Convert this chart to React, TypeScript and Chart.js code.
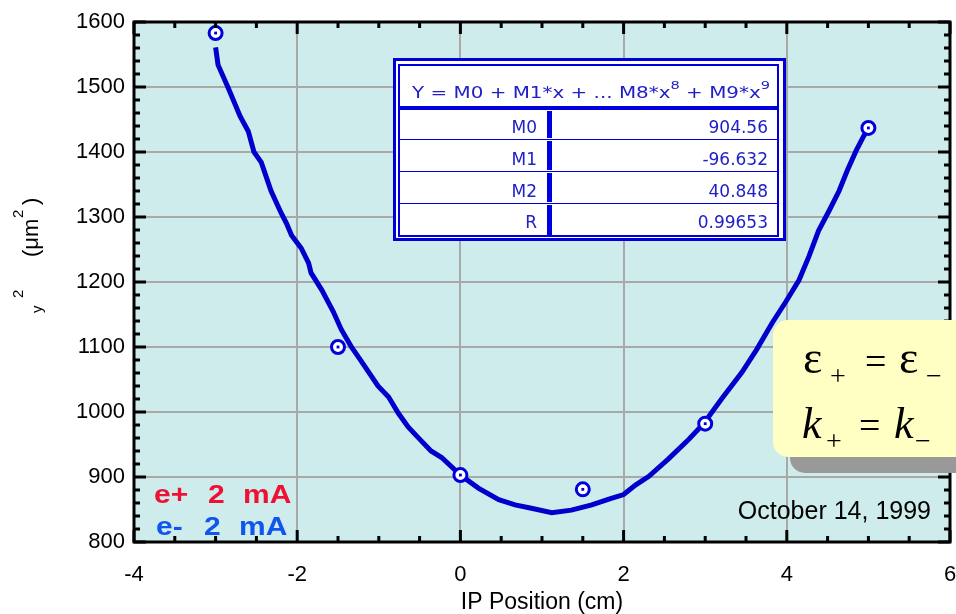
import React, { useEffect, useRef } from "react";
import { Chart, registerables } from "chart.js";
Chart.register(...registerables);

// Fitted curve
const fitX = [-3.0, -2.97, -2.85, -2.7, -2.6, -2.53, -2.44, -2.32, -2.2, -2.13, -2.07, -1.95, -1.86, -1.83, -1.7, -1.56, -1.46, -1.34, -1.23, -1.01, -0.88, -0.76, -0.64, -0.52, -0.36, -0.23, 0.0, 0.22, 0.47, 0.67, 0.87, 1.12, 1.36, 1.61, 1.82, 2.0, 2.15, 2.31, 2.55, 2.8, 2.98, 3.2, 3.45, 3.63, 3.82, 3.99, 4.15, 4.27, 4.39, 4.52, 4.64, 4.74, 4.85, 4.94, 5.0];
const fitY = [1561, 1534, 1500, 1455, 1432, 1400, 1384, 1340, 1307, 1290, 1272, 1252, 1229, 1214, 1188, 1155, 1127, 1101, 1081, 1040, 1023, 998, 977, 961, 940, 930, 903, 883, 865, 857, 852, 845, 849, 857, 866, 873, 888, 901, 928, 958, 982, 1020, 1061, 1096, 1137, 1170, 1203, 1239, 1279, 1310, 1340, 1371, 1402, 1424, 1437];

// Measured points
const measX = [-3, -1.5, 0, 1.5, 3, 5];
const measY = [1583, 1100, 903, 881, 982, 1437];

// Axes
const xMin = -4, xMax = 6, xStep = 2, xMinor = 0.5;
const yMin = 800, yMax = 1600, yStep = 100, yMinor = 20;
const xTitle = "IP Position (cm)";

// Fit table
const tableHeader = ["Y = M0 + M1*x + ... M8*x", "8", " + M9*x", "9"];
const tableLabels = ["M0", "M1", "M2", "R"];
const tableValues = ["904.56", "-96.632", "40.848", "0.99653"];

// Annotations
const legendPos = ["e+", "2", "mA"];
const legendNeg = ["e-", "2", "mA"];
const dateLabel = "October 14, 1999";

const SANS = '"Liberation Sans", Arial, sans-serif';
const SERIF = '"Liberation Serif", "Times New Roman", serif';
const DEJ = '"DejaVu Sans", sans-serif';

const overlay = {
  id: "overlay",
  beforeDraw(chart: any) {
    const { ctx, chartArea: a } = chart;
    ctx.save();
    ctx.fillStyle = "#ceecec";
    ctx.fillRect(a.left, a.top, a.right - a.left, a.bottom - a.top);
    ctx.restore();
  },
  afterDatasetsDraw(chart: any) {
    const { ctx, chartArea: a } = chart;
    const xs = chart.scales.x, ys = chart.scales.y;
    ctx.save();
    ctx.strokeStyle = "#000";
    ctx.lineWidth = 3;
    for (let v = xMin; v <= xMax + 1e-9; v += xMinor) {
      const p = xs.getPixelForValue(v);
      const major = Math.abs(v / xStep - Math.round(v / xStep)) < 1e-6;
      const len = major ? 12 : 6;
      ctx.beginPath();
      ctx.moveTo(p, a.bottom); ctx.lineTo(p, a.bottom - len);
      ctx.moveTo(p, a.top); ctx.lineTo(p, a.top + len);
      ctx.stroke();
    }
    for (let v = yMin; v <= yMax + 1e-9; v += yMinor) {
      const p = ys.getPixelForValue(v);
      const major = Math.abs(v / yStep - Math.round(v / yStep)) < 1e-6;
      const len = major ? 12 : 6;
      ctx.beginPath();
      ctx.moveTo(a.left, p); ctx.lineTo(a.left + len, p);
      ctx.moveTo(a.right, p); ctx.lineTo(a.right - len, p);
      ctx.stroke();
    }
    ctx.strokeRect(a.left, a.top, a.right - a.left, a.bottom - a.top);
    ctx.restore();
  },
  afterDraw(chart: any) {
    const { ctx } = chart;
    ctx.save();

    // ---- fit table ----
    const blue = "#0000dd";
    const txt = "#2020c8";
    ctx.fillStyle = "#fff";
    ctx.fillRect(393, 58, 393, 183);
    ctx.strokeStyle = blue;
    ctx.lineWidth = 3;
    ctx.strokeRect(394.5, 59.5, 390, 180);
    ctx.lineWidth = 2;
    ctx.strokeRect(399, 65, 379, 171);
    ctx.fillStyle = blue;
    ctx.fillRect(399, 106, 379, 4);
    ctx.lineWidth = 1;
    const rowLines = [139, 171, 203];
    rowLines.forEach((y) => {
      ctx.beginPath(); ctx.moveTo(399, y + 0.5); ctx.lineTo(778, y + 0.5); ctx.stroke();
    });
    const rowTops = [110, 140, 172, 204];
    const rowBots = [138, 170, 202, 235];
    for (let i = 0; i < 4; i++) {
      ctx.fillRect(547, rowTops[i] + 1, 5, rowBots[i] - rowTops[i] - 1);
    }
    ctx.fillStyle = txt;
    ctx.textBaseline = "alphabetic";
    ctx.textAlign = "left";
    const hf = 15, sf = 11;
    ctx.font = `${hf}px ${DEJ}`;
    const w0 = ctx.measureText(tableHeader[0]).width;
    const w2 = ctx.measureText(tableHeader[2]).width;
    ctx.font = `${sf}px ${DEJ}`;
    const w1 = ctx.measureText(tableHeader[1]).width;
    const w3 = ctx.measureText(tableHeader[3]).width;
    const total = w0 + w1 + w2 + w3;
    const sx = 358 / total;
    ctx.save();
    ctx.translate(412, 98);
    ctx.scale(sx, 1);
    let cx = 0;
    ctx.font = `${hf}px ${DEJ}`; ctx.fillText(tableHeader[0], cx, 0); cx += w0;
    ctx.font = `${sf}px ${DEJ}`; ctx.fillText(tableHeader[1], cx, -9); cx += w1;
    ctx.font = `${hf}px ${DEJ}`; ctx.fillText(tableHeader[2], cx, 0); cx += w2;
    ctx.font = `${sf}px ${DEJ}`; ctx.fillText(tableHeader[3], cx, -9);
    ctx.restore();
    ctx.font = `17px ${DEJ}`;
    ctx.textAlign = "right";
    const base = [133, 165, 197, 228];
    for (let i = 0; i < 4; i++) {
      ctx.fillText(tableLabels[i], 537, base[i]);
      ctx.fillText(tableValues[i], 768, base[i]);
    }

    // ---- yellow box ----
    const rr = (x: number, y: number, w: number, h: number, r: number) => {
      ctx.beginPath();
      ctx.moveTo(x + r, y);
      ctx.lineTo(x + w - r, y);
      ctx.arcTo(x + w, y, x + w, y + r, r);
      ctx.lineTo(x + w, y + h - r);
      ctx.arcTo(x + w, y + h, x + w - r, y + h, r);
      ctx.lineTo(x + r, y + h);
      ctx.arcTo(x, y + h, x, y + h - r, r);
      ctx.lineTo(x, y + r);
      ctx.arcTo(x, y, x + r, y, r);
      ctx.closePath();
    };
    ctx.fillStyle = "#999999";
    rr(790, 336, 220, 137, 15); ctx.fill();
    ctx.fillStyle = "#ffffc4";
    rr(773, 320, 220, 137, 15); ctx.fill();

    ctx.fillStyle = "#000";
    ctx.textAlign = "left";
    ctx.font = `46px ${SERIF}`;
    ctx.fillText("\u03b5", 803, 373);
    ctx.fillText("\u03b5", 899, 373);
    ctx.font = `38px ${SERIF}`;
    ctx.fillText("=", 865, 374);
    ctx.font = `28px ${SERIF}`;
    ctx.fillText("+", 830, 385);
    ctx.fillText("\u2212", 926, 385);
    ctx.font = `italic 44px ${SERIF}`;
    ctx.fillText("k", 802, 438);
    ctx.fillText("k", 894, 438);
    ctx.font = `38px ${SERIF}`;
    ctx.fillText("=", 859, 438);
    ctx.font = `28px ${SERIF}`;
    ctx.fillText("+", 826, 450);
    ctx.fillText("\u2212", 915, 450);

    // ---- legend text ----
    const drawStretched = (s: string, x: number, y: number, k: number) => {
      ctx.save(); ctx.translate(x, y); ctx.scale(k, 1); ctx.fillText(s, 0, 0); ctx.restore();
    };
    ctx.font = `bold 25px ${SANS}`;
    ctx.fillStyle = "#ee1133";
    drawStretched(legendPos[0], 154, 503, 1.2);
    drawStretched(legendPos[1], 208, 503, 1.2);
    drawStretched(legendPos[2], 243, 503, 1.2);
    ctx.fillStyle = "#1155ee";
    drawStretched(legendNeg[0], 156, 535, 1.2);
    drawStretched(legendNeg[1], 204, 535, 1.2);
    drawStretched(legendNeg[2], 239, 535, 1.2);

    // ---- date ----
    ctx.fillStyle = "#000";
    ctx.font = `25px ${SANS}`;
    ctx.textAlign = "right";
    ctx.fillText(dateLabel, 931, 519);

    // ---- y title (rotated) ----
    const rot = (s: string, x: number, y: number, f: string) => {
      ctx.save(); ctx.translate(x, y); ctx.rotate(-Math.PI / 2);
      ctx.font = f; ctx.textAlign = "left"; ctx.textBaseline = "alphabetic";
      ctx.fillText(s, 0, 0); ctx.restore();
    };
    rot("2", 23, 298, `15px ${SANS}`);
    rot("y", 42, 313, `15px ${SANS}`);
    rot("(\u03bcm", 38, 257, `22px ${SANS}`);
    rot("2", 23, 218, `15px ${SANS}`);
    rot(")", 38, 205, `22px ${SANS}`);

    ctx.restore();
  },
};

export default function App() {
  const ref = useRef<HTMLCanvasElement | null>(null);
  useEffect(() => {
    document.body.style.margin = "0";
    if (!ref.current) return;
    const gridColor = (c: any, lo: number, hi: number) =>
      c.tick && (c.tick.value <= lo || c.tick.value >= hi) ? "rgba(0,0,0,0)" : "#a9a9a9";
    const chart = new Chart(ref.current, {
      type: "scatter",
      data: {
        datasets: [
          {
            data: fitX.map((x, i) => ({ x, y: fitY[i] })),
            showLine: true,
            borderColor: "#0000cc",
            borderWidth: 5,
            pointRadius: 0,
            tension: 0,
            order: 3,
          },
          {
            data: measX.map((x, i) => ({ x, y: measY[i] })),
            pointRadius: 6.5,
            borderWidth: 3,
            borderColor: "#0000dd",
            backgroundColor: "#ffffff",
            order: 2,
          },
          {
            data: measX.map((x, i) => ({ x, y: measY[i] })),
            pointStyle: "rect",
            pointRadius: 2,
            borderWidth: 0,
            backgroundColor: "#0000dd",
            order: 1,
          },
        ],
      },
      options: {
        animation: false,
        responsive: false,
        devicePixelRatio: 1,
        layout: { autoPadding: false, padding: { left: 0, top: 22, right: 6, bottom: 0 } },
        plugins: { legend: { display: false }, tooltip: { enabled: false } },
        scales: {
          x: {
            type: "linear",
            min: xMin,
            max: xMax,
            afterFit: (s: any) => { s.height = 72; s.paddingLeft = 0; s.paddingRight = 0; },
            ticks: { stepSize: xStep, color: "#000", font: { family: SANS, size: 22 }, padding: 20, maxRotation: 0 },
            grid: { color: (c: any) => gridColor(c, xMin, xMax), lineWidth: 2, drawTicks: false },
            border: { display: false },
            title: { display: true, text: xTitle, color: "#000", font: { family: SANS, size: 23, lineHeight: 1 }, padding: 0 },
          },
          y: {
            min: yMin,
            max: yMax,
            afterFit: (s: any) => { s.width = 134; s.paddingTop = 0; s.paddingBottom = 0; },
            ticks: { stepSize: yStep, color: "#000", font: { family: SANS, size: 22 }, padding: 9, callback: (v: any) => String(v) },
            grid: { color: (c: any) => gridColor(c, yMin, yMax), lineWidth: 2, drawTicks: false },
            border: { display: false },
          },
        },
      },
      plugins: [overlay],
    } as any);
    return () => chart.destroy();
  }, []);
  return (
    <div style={{ position: "absolute", left: 0, top: 0, width: 956, height: 614, background: "#fff" }}>
      <canvas ref={ref} width={956} height={614} style={{ width: 956, height: 614, display: "block" }} />
    </div>
  );
}
